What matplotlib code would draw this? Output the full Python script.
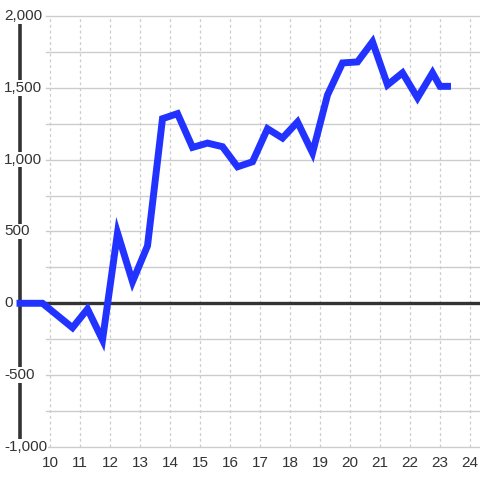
import matplotlib
matplotlib.use("Agg")
import matplotlib.pyplot as plt
import numpy as np

# === data ===
xs = [9.0, 9.75, 10.75, 11.25, 11.75, 12.25, 12.75, 13.25, 13.75, 14.25,
      14.75, 15.25, 15.75, 16.25, 16.75, 17.25, 17.75, 18.25, 18.75, 19.25,
      19.75, 20.25, 20.75, 21.25, 21.75, 22.25, 22.75, 23.0, 23.25]
ys = [0, 0, -170, -40, -255, 490, 150, 400, 1285, 1320,
      1085, 1115, 1090, 950, 985, 1215, 1150, 1262, 1047, 1450,
      1673, 1680, 1820, 1520, 1604, 1430, 1604, 1510, 1510]

x_ticks = list(range(10, 25))
y_ticks = [-1000, -500, 0, 500, 1000, 1500, 2000]
y_grid = list(range(-1000, 2001, 250))

text_col = "#333333"
grid_col = "#cccccc"
line_col = "#2233ff"

plt.rcParams["font.family"] = ["Liberation Sans", "DejaVu Sans"]

fig = plt.figure(figsize=(4.8, 4.8), dpi=100)
ax = fig.add_axes([0, 0, 1, 1])
ax.set_xlim(8.333, 24.333)
ax.set_ylim(-1230, 2111)
ax.axis("off")

# grid
for gy in y_grid:
    ax.plot([9.85, 24.333], [gy, gy], color=grid_col, lw=1, zorder=1)
for gx in x_ticks:
    ax.plot([gx, gx], [-1000, 2000], color=grid_col, lw=0.9, ls=(0, (2.3, 2.3)), zorder=1)

# zero line and left axis
ax.plot([9.0, 24.333], [0, 0], color=text_col, lw=2.4, zorder=2)
ax.plot([9.0, 9.0], [-1000, 2000], color=text_col, lw=2.6, zorder=2)

# series
ax.plot(xs, ys, color=line_col, lw=5.0, solid_joinstyle="miter",
        solid_capstyle="projecting", zorder=3)

# tick labels
for ty in y_ticks:
    ax.text(8.47, ty, f"{ty:,}", ha="left", va="center", fontsize=11,
            color=text_col, zorder=2.5,
            bbox=dict(facecolor="white", edgecolor="none", pad=0.6))
for tx in x_ticks:
    ax.text(tx, -1110, str(tx), ha="center", va="center", fontsize=11,
            color=text_col, zorder=4)

fig.savefig("out.png", dpi=100, facecolor="white")
